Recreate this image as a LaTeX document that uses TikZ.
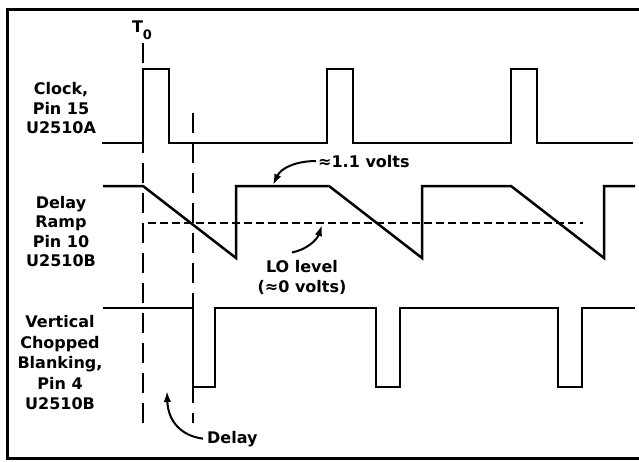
\documentclass[tikz,border=0pt]{standalone}
\usepackage{fontspec}
\setmainfont{DejaVu Sans}
\usetikzlibrary{arrows.meta}
\begin{document}
\begin{tikzpicture}[x=1pt,y=-1pt,
  wave/.style={line width=2.5pt, line join=miter, line cap=butt},
  vdash/.style={line width=1.9pt, dash pattern=on 20pt off 10pt},
  lodash/.style={line width=1.9pt, dash pattern=on 8pt off 4pt},
  lbl/.style={font=\fontsize{16}{19.5}\selectfont\bfseries, inner sep=0pt, align=center},
  note/.style={line width=2pt, -{Latex[length=11pt,width=7.5pt]}}]
\useasboundingbox (0,0) rectangle (639,461);
\fill[white] (0,0) rectangle (639,461);
% frame
\draw[line width=3pt] (639,9) -- (7,9) -- (7,458) -- (639,458);
% dashed guides
\draw[vdash] (143,43) -- (143,423);
\draw[vdash] (193,113) -- (193,423);
\draw[lodash] (148,223) -- (583,223);
% clock
\draw[wave] (102,143) -- (143,143) -- (143,69) -- (169,69) -- (169,143)
  -- (327,143) -- (327,69) -- (353,69) -- (353,143)
  -- (511,143) -- (511,69) -- (537,69) -- (537,143) -- (633,143);
% delay ramp
\draw[wave] (103,186) -- (143,186) -- (236,258) -- (236,186)
  -- (329,186) -- (422,258) -- (422,186)
  -- (511,186) -- (604,258) -- (604,186) -- (635,186);
% blanking
\draw[wave] (103,308) -- (193,308) -- (193,387) -- (215,387) -- (215,308)
  -- (376,308) -- (376,387) -- (400,387) -- (400,308)
  -- (558,308) -- (558,387) -- (582,387) -- (582,308) -- (635,308);
% labels
\node[lbl] (clk) at (61,108.5) {Clock,\\Pin 15\\U2510A};
\node[lbl] (ramp) at (61,231.4) {Delay\\Ramp\\Pin 10\\U2510B};
\node[lbl, font=\fontsize{16}{20.5}\selectfont\bfseries] (blank) at (60,362.9) {Vertical\\Chopped\\Blanking,\\Pin 4\\U2510B};
\node[lbl, anchor=base] (t0) at (142,32) {T\raisebox{-7pt}{\fontsize{13}{13}\selectfont\bfseries 0}};
\node[lbl, anchor=base west] (volts) at (318,167) {≈1.1 volts};
\node[lbl] (lo) at (302,277.5) {LO level\\(≈0 volts)};
\node[lbl, anchor=base west] (dl) at (207,443) {Delay};
% annotation arrows
\coordinate (hi) at (273,185);
\coordinate (lot) at (322,225);
\coordinate (dtip) at (167,391);
\draw[note] ([xshift=-2pt]volts.west) .. controls (296,161) and (281,168) .. (hi);
\draw[note] ([xshift=-10pt,yshift=8pt]lo.north) .. controls (306,250) and (317,240) .. (lot);
\draw[note] ([xshift=-4pt]dl.west) .. controls (182,436) and (168,422) .. (dtip);
\end{tikzpicture}
\end{document}
